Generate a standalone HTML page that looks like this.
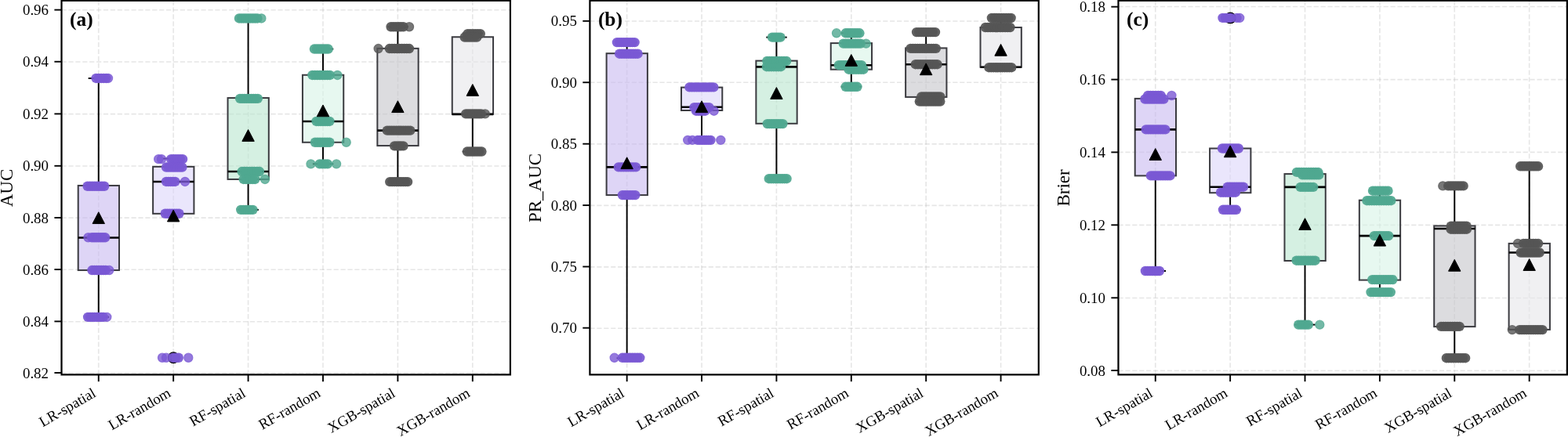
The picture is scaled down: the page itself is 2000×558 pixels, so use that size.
<!DOCTYPE html>
<html lang="en">
<head>
<meta charset="utf-8">
<title>Model performance box plots: AUC, PR_AUC, Brier</title>
<style>
html,body{margin:0;padding:0;background:#ffffff;}
body{width:2000px;height:558px;overflow:hidden;font-family:"Liberation Serif", "Times New Roman", serif;}
svg{display:block;}
</style>
</head>
<body>
<svg width="2000" height="558" viewBox="0 0 2000 558">
<rect x="0" y="0" width="2000" height="558" fill="#ffffff"/>
<g id="panel-a">
<g stroke="#bcbcbc" stroke-opacity="0.38" stroke-width="1.6" stroke-dasharray="6.2 2.7" fill="none">
<line x1="125.75" y1="478.4" x2="125.75" y2="0.75"/>
<line x1="221.16" y1="478.4" x2="221.16" y2="0.75"/>
<line x1="316.57" y1="478.4" x2="316.57" y2="0.75"/>
<line x1="411.98" y1="478.4" x2="411.98" y2="0.75"/>
<line x1="507.39" y1="478.4" x2="507.39" y2="0.75"/>
<line x1="602.8" y1="478.4" x2="602.8" y2="0.75"/>
<line x1="78.5" y1="12.75" x2="650.9" y2="12.75"/>
<line x1="78.5" y1="78.95" x2="650.9" y2="78.95"/>
<line x1="78.5" y1="145.65" x2="650.9" y2="145.65"/>
<line x1="78.5" y1="211.95" x2="650.9" y2="211.95"/>
<line x1="78.5" y1="278.15" x2="650.9" y2="278.15"/>
<line x1="78.5" y1="344.3" x2="650.9" y2="344.3"/>
<line x1="78.5" y1="410.75" x2="650.9" y2="410.75"/>
<line x1="78.5" y1="476.2" x2="650.9" y2="476.2"/>
</g>
<rect x="99.7" y="236.95" width="52.3" height="108.1" fill="#c8b9f0" fill-opacity="0.6" stroke="none"/>
<rect x="99.7" y="236.95" width="52.3" height="108.1" fill="none" stroke="#3b3b40" stroke-width="2.0"/>
<g stroke="#000" stroke-width="1.95" fill="none">
<line x1="125.75" y1="236.95" x2="125.75" y2="99.95"/>
<line x1="125.75" y1="345.05" x2="125.75" y2="404.85"/>
<line x1="112.65" y1="99.95" x2="139.05" y2="99.95"/>
<line x1="112.65" y1="404.85" x2="139.05" y2="404.85"/>
</g>
<line x1="99.7" y1="303.45" x2="152" y2="303.45" stroke="#000" stroke-width="2.6"/>
<rect x="195.11" y="212.85" width="52.3" height="60" fill="#dcd5fa" fill-opacity="0.6" stroke="none"/>
<rect x="195.11" y="212.85" width="52.3" height="60" fill="none" stroke="#3b3b40" stroke-width="2.0"/>
<g stroke="#000" stroke-width="1.95" fill="none">
<line x1="221.16" y1="212.85" x2="221.16" y2="202.55"/>
<line x1="208.06" y1="202.55" x2="234.46" y2="202.55"/>
<line x1="208.06" y1="272.85" x2="234.46" y2="272.85"/>
</g>
<line x1="195.11" y1="231.95" x2="247.41" y2="231.95" stroke="#000" stroke-width="2.6"/>
<circle cx="221.26" cy="456.75" r="7.4" fill="#000"/>
<rect x="290.52" y="125.05" width="52.3" height="103.9" fill="#b9e6cf" fill-opacity="0.6" stroke="none"/>
<rect x="290.52" y="125.05" width="52.3" height="103.9" fill="none" stroke="#3b3b40" stroke-width="2.0"/>
<g stroke="#000" stroke-width="1.95" fill="none">
<line x1="316.57" y1="125.05" x2="316.57" y2="23.45"/>
<line x1="316.57" y1="228.95" x2="316.57" y2="267.85"/>
<line x1="303.47" y1="23.45" x2="329.87" y2="23.45"/>
<line x1="303.47" y1="267.85" x2="329.87" y2="267.85"/>
</g>
<line x1="290.52" y1="219.05" x2="342.82" y2="219.05" stroke="#000" stroke-width="2.6"/>
<rect x="385.93" y="95.75" width="52.3" height="86" fill="#d7f3e6" fill-opacity="0.6" stroke="none"/>
<rect x="385.93" y="95.75" width="52.3" height="86" fill="none" stroke="#3b3b40" stroke-width="2.0"/>
<g stroke="#000" stroke-width="1.95" fill="none">
<line x1="411.98" y1="95.75" x2="411.98" y2="62.55"/>
<line x1="411.98" y1="181.75" x2="411.98" y2="209.35"/>
<line x1="398.88" y1="62.55" x2="425.28" y2="62.55"/>
<line x1="398.88" y1="209.35" x2="425.28" y2="209.35"/>
</g>
<line x1="385.93" y1="154.95" x2="438.23" y2="154.95" stroke="#000" stroke-width="2.6"/>
<rect x="481.34" y="61.85" width="52.3" height="124.2" fill="#c4c5ca" fill-opacity="0.6" stroke="none"/>
<rect x="481.34" y="61.85" width="52.3" height="124.2" fill="none" stroke="#3b3b40" stroke-width="2.0"/>
<g stroke="#000" stroke-width="1.95" fill="none">
<line x1="507.39" y1="61.85" x2="507.39" y2="34.25"/>
<line x1="507.39" y1="186.05" x2="507.39" y2="232.15"/>
<line x1="494.29" y1="34.25" x2="520.69" y2="34.25"/>
<line x1="494.29" y1="232.15" x2="520.69" y2="232.15"/>
</g>
<line x1="481.34" y1="166.65" x2="533.64" y2="166.65" stroke="#000" stroke-width="2.6"/>
<rect x="576.75" y="47.25" width="52.3" height="98.6" fill="#e6e6e9" fill-opacity="0.6" stroke="none"/>
<rect x="576.75" y="47.25" width="52.3" height="98.6" fill="none" stroke="#3b3b40" stroke-width="2.0"/>
<g stroke="#000" stroke-width="1.95" fill="none">
<line x1="602.8" y1="47.25" x2="602.8" y2="42.55"/>
<line x1="602.8" y1="145.85" x2="602.8" y2="193.55"/>
<line x1="589.7" y1="42.55" x2="616.1" y2="42.55"/>
<line x1="589.7" y1="193.55" x2="616.1" y2="193.55"/>
</g>
<line x1="576.75" y1="145.85" x2="629.05" y2="145.85" stroke="#000" stroke-width="2.6"/>
<g fill="#7a58d4" fill-opacity="0.93">
<circle cx="122.5" cy="99.95" r="6.2"/>
<circle cx="125.72" cy="99.95" r="6.2"/>
<circle cx="128.95" cy="99.95" r="6.2"/>
<circle cx="132.18" cy="99.95" r="6.2"/>
<circle cx="135.4" cy="99.95" r="6.2"/>
<circle cx="138" cy="99.95" r="5.6000000000000005" fill-opacity="0.8" stroke="#7a58d4" stroke-opacity="0.75" stroke-width="1.2"/>
<circle cx="111.6" cy="237.75" r="6.2"/>
<circle cx="114.67" cy="237.75" r="6.2"/>
<circle cx="117.74" cy="237.75" r="6.2"/>
<circle cx="120.81" cy="237.75" r="6.2"/>
<circle cx="123.89" cy="237.75" r="6.2"/>
<circle cx="126.96" cy="237.75" r="6.2"/>
<circle cx="130.03" cy="237.75" r="6.2"/>
<circle cx="133.1" cy="237.75" r="6.2"/>
<circle cx="117.2" cy="303.25" r="6.2"/>
<circle cx="120.02" cy="303.25" r="6.2"/>
<circle cx="122.83" cy="303.25" r="6.2"/>
<circle cx="125.65" cy="303.25" r="6.2"/>
<circle cx="128.47" cy="303.25" r="6.2"/>
<circle cx="131.28" cy="303.25" r="6.2"/>
<circle cx="134.1" cy="303.25" r="6.2"/>
<circle cx="112.5" cy="303.25" r="5.6000000000000005" fill-opacity="0.8" stroke="#7a58d4" stroke-opacity="0.75" stroke-width="1.2"/>
<circle cx="117.4" cy="345.05" r="6.2"/>
<circle cx="120.3" cy="345.05" r="6.2"/>
<circle cx="123.2" cy="345.05" r="6.2"/>
<circle cx="126.1" cy="345.05" r="6.2"/>
<circle cx="129" cy="345.05" r="6.2"/>
<circle cx="131.9" cy="345.05" r="6.2"/>
<circle cx="134.8" cy="345.05" r="6.2"/>
<circle cx="139.3" cy="345.05" r="5.6000000000000005" fill-opacity="0.8" stroke="#7a58d4" stroke-opacity="0.75" stroke-width="1.2"/>
<circle cx="112.1" cy="404.85" r="6.2"/>
<circle cx="114.91" cy="404.85" r="6.2"/>
<circle cx="117.73" cy="404.85" r="6.2"/>
<circle cx="120.54" cy="404.85" r="6.2"/>
<circle cx="123.36" cy="404.85" r="6.2"/>
<circle cx="126.17" cy="404.85" r="6.2"/>
<circle cx="128.99" cy="404.85" r="6.2"/>
<circle cx="131.8" cy="404.85" r="6.2"/>
<circle cx="136.3" cy="404.85" r="5.6000000000000005" fill-opacity="0.8" stroke="#7a58d4" stroke-opacity="0.75" stroke-width="1.2"/>
</g>
<g fill="#7a58d4" fill-opacity="0.93">
<circle cx="218.2" cy="203.15" r="6.2"/>
<circle cx="221.16" cy="203.15" r="6.2"/>
<circle cx="224.12" cy="203.15" r="6.2"/>
<circle cx="227.08" cy="203.15" r="6.2"/>
<circle cx="230.04" cy="203.15" r="6.2"/>
<circle cx="233" cy="203.15" r="6.2"/>
<circle cx="202.2" cy="203.15" r="5.6000000000000005" fill-opacity="0.8" stroke="#7a58d4" stroke-opacity="0.75" stroke-width="1.2"/>
<circle cx="206" cy="203.15" r="5.6000000000000005" fill-opacity="0.8" stroke="#7a58d4" stroke-opacity="0.75" stroke-width="1.2"/>
<circle cx="212" cy="213.55" r="6.2"/>
<circle cx="214.91" cy="213.55" r="6.2"/>
<circle cx="217.83" cy="213.55" r="6.2"/>
<circle cx="220.74" cy="213.55" r="6.2"/>
<circle cx="223.66" cy="213.55" r="6.2"/>
<circle cx="226.57" cy="213.55" r="6.2"/>
<circle cx="229.49" cy="213.55" r="6.2"/>
<circle cx="232.4" cy="213.55" r="6.2"/>
<circle cx="212" cy="231.95" r="6.2"/>
<circle cx="214.85" cy="231.95" r="6.2"/>
<circle cx="217.7" cy="231.95" r="6.2"/>
<circle cx="220.55" cy="231.95" r="6.2"/>
<circle cx="223.4" cy="231.95" r="6.2"/>
<circle cx="236" cy="231.95" r="5.6000000000000005" fill-opacity="0.8" stroke="#7a58d4" stroke-opacity="0.75" stroke-width="1.2"/>
<circle cx="210.7" cy="272.75" r="6.2"/>
<circle cx="213.65" cy="272.75" r="6.2"/>
<circle cx="216.6" cy="272.75" r="6.2"/>
<circle cx="219.55" cy="272.75" r="6.2"/>
<circle cx="222.5" cy="272.75" r="6.2"/>
<circle cx="225.45" cy="272.75" r="6.2"/>
<circle cx="228.4" cy="272.75" r="6.2"/>
<circle cx="220.8" cy="456.75" r="6.2"/>
<circle cx="224.3" cy="456.75" r="6.2"/>
<circle cx="227.8" cy="456.75" r="6.2"/>
<circle cx="207" cy="456.75" r="5.6000000000000005" fill-opacity="0.8" stroke="#7a58d4" stroke-opacity="0.75" stroke-width="1.2"/>
<circle cx="212" cy="456.75" r="5.6000000000000005" fill-opacity="0.8" stroke="#7a58d4" stroke-opacity="0.75" stroke-width="1.2"/>
<circle cx="240.3" cy="456.75" r="5.6000000000000005" fill-opacity="0.8" stroke="#7a58d4" stroke-opacity="0.75" stroke-width="1.2"/>
</g>
<g fill="#50a890" fill-opacity="0.93">
<circle cx="305" cy="23.45" r="6.2"/>
<circle cx="307.93" cy="23.45" r="6.2"/>
<circle cx="310.85" cy="23.45" r="6.2"/>
<circle cx="313.78" cy="23.45" r="6.2"/>
<circle cx="316.7" cy="23.45" r="6.2"/>
<circle cx="319.62" cy="23.45" r="6.2"/>
<circle cx="322.55" cy="23.45" r="6.2"/>
<circle cx="325.48" cy="23.45" r="6.2"/>
<circle cx="328.4" cy="23.45" r="6.2"/>
<circle cx="333.4" cy="23.45" r="5.6000000000000005" fill-opacity="0.8" stroke="#50a890" stroke-opacity="0.75" stroke-width="1.2"/>
<circle cx="306.1" cy="125.85" r="6.2"/>
<circle cx="308.94" cy="125.85" r="6.2"/>
<circle cx="311.77" cy="125.85" r="6.2"/>
<circle cx="314.61" cy="125.85" r="6.2"/>
<circle cx="317.45" cy="125.85" r="6.2"/>
<circle cx="320.29" cy="125.85" r="6.2"/>
<circle cx="323.12" cy="125.85" r="6.2"/>
<circle cx="325.96" cy="125.85" r="6.2"/>
<circle cx="328.8" cy="125.85" r="6.2"/>
<circle cx="308.6" cy="219.05" r="6.2"/>
<circle cx="311.8" cy="219.05" r="6.2"/>
<circle cx="315" cy="219.05" r="6.2"/>
<circle cx="318.2" cy="219.05" r="6.2"/>
<circle cx="321.4" cy="219.05" r="6.2"/>
<circle cx="324.6" cy="219.05" r="6.2"/>
<circle cx="327.8" cy="219.05" r="6.2"/>
<circle cx="331" cy="219.05" r="6.2"/>
<circle cx="310.7" cy="228.95" r="6.2"/>
<circle cx="313.62" cy="228.95" r="6.2"/>
<circle cx="316.54" cy="228.95" r="6.2"/>
<circle cx="319.46" cy="228.95" r="6.2"/>
<circle cx="322.38" cy="228.95" r="6.2"/>
<circle cx="325.3" cy="228.95" r="6.2"/>
<circle cx="338" cy="228.95" r="5.6000000000000005" fill-opacity="0.8" stroke="#50a890" stroke-opacity="0.75" stroke-width="1.2"/>
<circle cx="307.2" cy="267.85" r="6.2"/>
<circle cx="310.26" cy="267.85" r="6.2"/>
<circle cx="313.32" cy="267.85" r="6.2"/>
<circle cx="316.38" cy="267.85" r="6.2"/>
<circle cx="319.44" cy="267.85" r="6.2"/>
<circle cx="322.5" cy="267.85" r="6.2"/>
</g>
<g fill="#50a890" fill-opacity="0.93">
<circle cx="400.9" cy="62.55" r="6.2"/>
<circle cx="403.87" cy="62.55" r="6.2"/>
<circle cx="406.83" cy="62.55" r="6.2"/>
<circle cx="409.8" cy="62.55" r="6.2"/>
<circle cx="412.77" cy="62.55" r="6.2"/>
<circle cx="415.73" cy="62.55" r="6.2"/>
<circle cx="418.7" cy="62.55" r="6.2"/>
<circle cx="398.4" cy="95.95" r="6.2"/>
<circle cx="401.6" cy="95.95" r="6.2"/>
<circle cx="404.8" cy="95.95" r="6.2"/>
<circle cx="408" cy="95.95" r="6.2"/>
<circle cx="411.2" cy="95.95" r="6.2"/>
<circle cx="414.4" cy="95.95" r="6.2"/>
<circle cx="417.6" cy="95.95" r="6.2"/>
<circle cx="420.8" cy="95.95" r="6.2"/>
<circle cx="430.4" cy="95.95" r="5.6000000000000005" fill-opacity="0.8" stroke="#50a890" stroke-opacity="0.75" stroke-width="1.2"/>
<circle cx="403.5" cy="154.95" r="6.2"/>
<circle cx="406.32" cy="154.95" r="6.2"/>
<circle cx="409.13" cy="154.95" r="6.2"/>
<circle cx="411.95" cy="154.95" r="6.2"/>
<circle cx="414.77" cy="154.95" r="6.2"/>
<circle cx="417.58" cy="154.95" r="6.2"/>
<circle cx="420.4" cy="154.95" r="6.2"/>
<circle cx="401.9" cy="181.75" r="6.2"/>
<circle cx="404.98" cy="181.75" r="6.2"/>
<circle cx="408.07" cy="181.75" r="6.2"/>
<circle cx="411.15" cy="181.75" r="6.2"/>
<circle cx="414.23" cy="181.75" r="6.2"/>
<circle cx="417.32" cy="181.75" r="6.2"/>
<circle cx="420.4" cy="181.75" r="6.2"/>
<circle cx="441.7" cy="181.75" r="5.6000000000000005" fill-opacity="0.8" stroke="#50a890" stroke-opacity="0.75" stroke-width="1.2"/>
<circle cx="407.7" cy="209.35" r="6.2"/>
<circle cx="411.1" cy="209.35" r="6.2"/>
<circle cx="414.5" cy="209.35" r="6.2"/>
<circle cx="417.9" cy="209.35" r="6.2"/>
<circle cx="396.5" cy="209.35" r="5.6000000000000005" fill-opacity="0.8" stroke="#50a890" stroke-opacity="0.75" stroke-width="1.2"/>
<circle cx="429.1" cy="209.35" r="5.6000000000000005" fill-opacity="0.8" stroke="#50a890" stroke-opacity="0.75" stroke-width="1.2"/>
</g>
<g fill="#555555" fill-opacity="0.93">
<circle cx="498.6" cy="34.25" r="6.2"/>
<circle cx="501.78" cy="34.25" r="6.2"/>
<circle cx="504.96" cy="34.25" r="6.2"/>
<circle cx="508.14" cy="34.25" r="6.2"/>
<circle cx="511.32" cy="34.25" r="6.2"/>
<circle cx="514.5" cy="34.25" r="6.2"/>
<circle cx="522" cy="34.25" r="5.6000000000000005" fill-opacity="0.8" stroke="#555555" stroke-opacity="0.75" stroke-width="1.2"/>
<circle cx="496.8" cy="62.05" r="6.2"/>
<circle cx="499.95" cy="62.05" r="6.2"/>
<circle cx="503.1" cy="62.05" r="6.2"/>
<circle cx="506.25" cy="62.05" r="6.2"/>
<circle cx="509.4" cy="62.05" r="6.2"/>
<circle cx="512.55" cy="62.05" r="6.2"/>
<circle cx="515.7" cy="62.05" r="6.2"/>
<circle cx="518.85" cy="62.05" r="6.2"/>
<circle cx="522" cy="62.05" r="6.2"/>
<circle cx="482.6" cy="62.05" r="5.6000000000000005" fill-opacity="0.8" stroke="#555555" stroke-opacity="0.75" stroke-width="1.2"/>
<circle cx="493.8" cy="166.65" r="6.2"/>
<circle cx="496.75" cy="166.65" r="6.2"/>
<circle cx="499.7" cy="166.65" r="6.2"/>
<circle cx="502.65" cy="166.65" r="6.2"/>
<circle cx="505.6" cy="166.65" r="6.2"/>
<circle cx="508.55" cy="166.65" r="6.2"/>
<circle cx="511.5" cy="166.65" r="6.2"/>
<circle cx="514.45" cy="166.65" r="6.2"/>
<circle cx="517.4" cy="166.65" r="6.2"/>
<circle cx="520.35" cy="166.65" r="6.2"/>
<circle cx="523.3" cy="166.65" r="6.2"/>
<circle cx="503.1" cy="186.35" r="6.2"/>
<circle cx="505.95" cy="186.35" r="6.2"/>
<circle cx="508.8" cy="186.35" r="6.2"/>
<circle cx="511.65" cy="186.35" r="6.2"/>
<circle cx="514.5" cy="186.35" r="6.2"/>
<circle cx="497.3" cy="232.15" r="6.2"/>
<circle cx="500.14" cy="232.15" r="6.2"/>
<circle cx="502.98" cy="232.15" r="6.2"/>
<circle cx="505.81" cy="232.15" r="6.2"/>
<circle cx="508.65" cy="232.15" r="6.2"/>
<circle cx="511.49" cy="232.15" r="6.2"/>
<circle cx="514.33" cy="232.15" r="6.2"/>
<circle cx="517.16" cy="232.15" r="6.2"/>
<circle cx="520" cy="232.15" r="6.2"/>
</g>
<g fill="#555555" fill-opacity="0.93">
<circle cx="596.5" cy="43.15" r="6.2"/>
<circle cx="599.74" cy="43.15" r="6.2"/>
<circle cx="602.98" cy="43.15" r="6.2"/>
<circle cx="606.22" cy="43.15" r="6.2"/>
<circle cx="609.46" cy="43.15" r="6.2"/>
<circle cx="612.7" cy="43.15" r="6.2"/>
<circle cx="592.7" cy="47.65" r="6.2"/>
<circle cx="595.8" cy="47.65" r="6.2"/>
<circle cx="598.9" cy="47.65" r="6.2"/>
<circle cx="602" cy="47.65" r="6.2"/>
<circle cx="605.1" cy="47.65" r="6.2"/>
<circle cx="608.2" cy="47.65" r="6.2"/>
<circle cx="594.2" cy="145.35" r="6.2"/>
<circle cx="597" cy="145.35" r="6.2"/>
<circle cx="599.8" cy="145.35" r="6.2"/>
<circle cx="602.6" cy="145.35" r="6.2"/>
<circle cx="605.4" cy="145.35" r="6.2"/>
<circle cx="608.2" cy="145.35" r="6.2"/>
<circle cx="611" cy="145.35" r="6.2"/>
<circle cx="613.8" cy="145.35" r="6.2"/>
<circle cx="618.8" cy="145.35" r="5.6000000000000005" fill-opacity="0.8" stroke="#555555" stroke-opacity="0.75" stroke-width="1.2"/>
<circle cx="595.9" cy="193.55" r="6.2"/>
<circle cx="598.98" cy="193.55" r="6.2"/>
<circle cx="602.07" cy="193.55" r="6.2"/>
<circle cx="605.15" cy="193.55" r="6.2"/>
<circle cx="608.23" cy="193.55" r="6.2"/>
<circle cx="611.32" cy="193.55" r="6.2"/>
<circle cx="614.4" cy="193.55" r="6.2"/>
</g>
<path d="M125.75 270.75L133.45 285.55L118.05 285.55Z" fill="#000" stroke="#000" stroke-width="1" stroke-linejoin="round"/>
<path d="M221.16 268.15L228.86 282.95L213.46 282.95Z" fill="#000" stroke="#000" stroke-width="1" stroke-linejoin="round"/>
<path d="M316.57 165.55L324.27 180.35L308.87 180.35Z" fill="#000" stroke="#000" stroke-width="1" stroke-linejoin="round"/>
<path d="M411.98 133.95L419.68 148.75L404.28 148.75Z" fill="#000" stroke="#000" stroke-width="1" stroke-linejoin="round"/>
<path d="M507.39 128.75L515.09 143.55L499.69 143.55Z" fill="#000" stroke="#000" stroke-width="1" stroke-linejoin="round"/>
<path d="M602.8 107.55L610.5 122.35L595.1 122.35Z" fill="#000" stroke="#000" stroke-width="1" stroke-linejoin="round"/>
<rect x="78.5" y="0.75" width="572.4" height="477.65" fill="none" stroke="#000" stroke-width="2.2"/>
<g stroke="#000" stroke-width="1.9" fill="none">
<line x1="125.75" y1="478.4" x2="125.75" y2="487.2"/>
<line x1="221.16" y1="478.4" x2="221.16" y2="487.2"/>
<line x1="316.57" y1="478.4" x2="316.57" y2="487.2"/>
<line x1="411.98" y1="478.4" x2="411.98" y2="487.2"/>
<line x1="507.39" y1="478.4" x2="507.39" y2="487.2"/>
<line x1="602.8" y1="478.4" x2="602.8" y2="487.2"/>
<line x1="78.5" y1="12.6" x2="69.4" y2="12.6"/>
<line x1="78.5" y1="78.75" x2="69.4" y2="78.75"/>
<line x1="78.5" y1="145.4" x2="69.4" y2="145.4"/>
<line x1="78.5" y1="211.8" x2="69.4" y2="211.8"/>
<line x1="78.5" y1="278" x2="69.4" y2="278"/>
<line x1="78.5" y1="344.1" x2="69.4" y2="344.1"/>
<line x1="78.5" y1="410.4" x2="69.4" y2="410.4"/>
<line x1="78.5" y1="476.05" x2="69.4" y2="476.05"/>
</g>
<g font-family='"Liberation Serif", "Times New Roman", serif' fill="#000">
<text x="62" y="19.2" font-size="18.9" text-anchor="end">0.96</text>
<text x="62" y="85.35" font-size="18.9" text-anchor="end">0.94</text>
<text x="62" y="152" font-size="18.9" text-anchor="end">0.92</text>
<text x="62" y="218.4" font-size="18.9" text-anchor="end">0.90</text>
<text x="62" y="284.6" font-size="18.9" text-anchor="end">0.88</text>
<text x="62" y="350.7" font-size="18.9" text-anchor="end">0.86</text>
<text x="62" y="417" font-size="18.9" text-anchor="end">0.84</text>
<text x="62" y="482.65" font-size="18.9" text-anchor="end">0.82</text>
<text transform="translate(123.65 505.5) rotate(-30)" font-size="18.9" text-anchor="end">LR-spatial</text>
<text transform="translate(219.06 505.5) rotate(-30)" font-size="18.9" text-anchor="end">LR-random</text>
<text transform="translate(314.47 505.5) rotate(-30)" font-size="18.9" text-anchor="end">RF-spatial</text>
<text transform="translate(409.88 505.5) rotate(-30)" font-size="18.9" text-anchor="end">RF-random</text>
<text transform="translate(505.29 505.5) rotate(-30)" font-size="18.9" text-anchor="end">XGB-spatial</text>
<text transform="translate(600.7 505.5) rotate(-30)" font-size="18.9" text-anchor="end">XGB-random</text>
<text transform="translate(16.2 239.97) rotate(-90) scale(0.975 1)" font-size="23.6" text-anchor="middle">AUC</text>
<text x="89" y="33.2" font-size="25.4" font-weight="bold">(a)</text>
</g>
</g>
<g id="panel-b">
<g stroke="#bcbcbc" stroke-opacity="0.38" stroke-width="1.6" stroke-dasharray="6.2 2.7" fill="none">
<line x1="799.65" y1="478.4" x2="799.65" y2="0.75"/>
<line x1="895.03" y1="478.4" x2="895.03" y2="0.75"/>
<line x1="990.41" y1="478.4" x2="990.41" y2="0.75"/>
<line x1="1085.79" y1="478.4" x2="1085.79" y2="0.75"/>
<line x1="1181.17" y1="478.4" x2="1181.17" y2="0.75"/>
<line x1="1276.55" y1="478.4" x2="1276.55" y2="0.75"/>
<line x1="752.4" y1="27" x2="1324.8" y2="27"/>
<line x1="752.4" y1="105.3" x2="1324.8" y2="105.3"/>
<line x1="752.4" y1="183.9" x2="1324.8" y2="183.9"/>
<line x1="752.4" y1="262.4" x2="1324.8" y2="262.4"/>
<line x1="752.4" y1="340.85" x2="1324.8" y2="340.85"/>
<line x1="752.4" y1="419.3" x2="1324.8" y2="419.3"/>
</g>
<rect x="773.6" y="68.2" width="52.3" height="180.9" fill="#c8b9f0" fill-opacity="0.6" stroke="none"/>
<rect x="773.6" y="68.2" width="52.3" height="180.9" fill="none" stroke="#3b3b40" stroke-width="2.0"/>
<g stroke="#000" stroke-width="1.95" fill="none">
<line x1="799.65" y1="68.2" x2="799.65" y2="54.1"/>
<line x1="799.65" y1="249.1" x2="799.65" y2="457.3"/>
<line x1="786.55" y1="54.1" x2="812.95" y2="54.1"/>
<line x1="786.55" y1="457.3" x2="812.95" y2="457.3"/>
</g>
<line x1="773.6" y1="213.4" x2="825.9" y2="213.4" stroke="#000" stroke-width="2.6"/>
<rect x="868.98" y="111.6" width="52.3" height="29.4" fill="#dcd5fa" fill-opacity="0.6" stroke="none"/>
<rect x="868.98" y="111.6" width="52.3" height="29.4" fill="none" stroke="#3b3b40" stroke-width="2.0"/>
<g stroke="#000" stroke-width="1.95" fill="none">
<line x1="895.03" y1="111.6" x2="895.03" y2="110.8"/>
<line x1="895.03" y1="141" x2="895.03" y2="179.3"/>
<line x1="881.93" y1="110.8" x2="908.33" y2="110.8"/>
<line x1="881.93" y1="179.3" x2="908.33" y2="179.3"/>
</g>
<line x1="868.98" y1="136.8" x2="921.28" y2="136.8" stroke="#000" stroke-width="2.6"/>
<rect x="964.36" y="77.6" width="52.3" height="80.2" fill="#b9e6cf" fill-opacity="0.6" stroke="none"/>
<rect x="964.36" y="77.6" width="52.3" height="80.2" fill="none" stroke="#3b3b40" stroke-width="2.0"/>
<g stroke="#000" stroke-width="1.95" fill="none">
<line x1="990.41" y1="77.6" x2="990.41" y2="47.6"/>
<line x1="990.41" y1="157.8" x2="990.41" y2="228.2"/>
<line x1="977.31" y1="47.6" x2="1003.71" y2="47.6"/>
<line x1="977.31" y1="228.2" x2="1003.71" y2="228.2"/>
</g>
<line x1="964.36" y1="85.4" x2="1016.66" y2="85.4" stroke="#000" stroke-width="2.6"/>
<rect x="1059.74" y="55.1" width="52.3" height="33.6" fill="#d7f3e6" fill-opacity="0.6" stroke="none"/>
<rect x="1059.74" y="55.1" width="52.3" height="33.6" fill="none" stroke="#3b3b40" stroke-width="2.0"/>
<g stroke="#000" stroke-width="1.95" fill="none">
<line x1="1085.79" y1="55.1" x2="1085.79" y2="42.3"/>
<line x1="1085.79" y1="88.7" x2="1085.79" y2="110.8"/>
<line x1="1072.69" y1="42.3" x2="1099.09" y2="42.3"/>
<line x1="1072.69" y1="110.8" x2="1099.09" y2="110.8"/>
</g>
<line x1="1059.74" y1="83.2" x2="1112.04" y2="83.2" stroke="#000" stroke-width="2.6"/>
<rect x="1155.12" y="61.4" width="52.3" height="62.5" fill="#c4c5ca" fill-opacity="0.6" stroke="none"/>
<rect x="1155.12" y="61.4" width="52.3" height="62.5" fill="none" stroke="#3b3b40" stroke-width="2.0"/>
<g stroke="#000" stroke-width="1.95" fill="none">
<line x1="1181.17" y1="61.4" x2="1181.17" y2="41.1"/>
<line x1="1181.17" y1="123.9" x2="1181.17" y2="129.6"/>
<line x1="1168.07" y1="41.1" x2="1194.47" y2="41.1"/>
<line x1="1168.07" y1="129.6" x2="1194.47" y2="129.6"/>
</g>
<line x1="1155.12" y1="82.2" x2="1207.42" y2="82.2" stroke="#000" stroke-width="2.6"/>
<rect x="1250.5" y="35" width="52.3" height="50.7" fill="#e6e6e9" fill-opacity="0.6" stroke="none"/>
<rect x="1250.5" y="35" width="52.3" height="50.7" fill="none" stroke="#3b3b40" stroke-width="2.0"/>
<g stroke="#000" stroke-width="1.95" fill="none">
<line x1="1276.55" y1="35" x2="1276.55" y2="23"/>
<line x1="1263.45" y1="23" x2="1289.85" y2="23"/>
<line x1="1263.45" y1="85.7" x2="1289.85" y2="85.7"/>
</g>
<line x1="1250.5" y1="85.7" x2="1302.8" y2="85.7" stroke="#000" stroke-width="2.6"/>
<g fill="#7a58d4" fill-opacity="0.93">
<circle cx="786.9" cy="54.1" r="6.2"/>
<circle cx="789.74" cy="54.1" r="6.2"/>
<circle cx="792.58" cy="54.1" r="6.2"/>
<circle cx="795.41" cy="54.1" r="6.2"/>
<circle cx="798.25" cy="54.1" r="6.2"/>
<circle cx="801.09" cy="54.1" r="6.2"/>
<circle cx="803.93" cy="54.1" r="6.2"/>
<circle cx="806.76" cy="54.1" r="6.2"/>
<circle cx="809.6" cy="54.1" r="6.2"/>
<circle cx="790.1" cy="68.7" r="6.2"/>
<circle cx="793.04" cy="68.7" r="6.2"/>
<circle cx="795.98" cy="68.7" r="6.2"/>
<circle cx="798.91" cy="68.7" r="6.2"/>
<circle cx="801.85" cy="68.7" r="6.2"/>
<circle cx="804.79" cy="68.7" r="6.2"/>
<circle cx="807.73" cy="68.7" r="6.2"/>
<circle cx="810.66" cy="68.7" r="6.2"/>
<circle cx="813.6" cy="68.7" r="6.2"/>
<circle cx="788.9" cy="213.4" r="6.2"/>
<circle cx="792.07" cy="213.4" r="6.2"/>
<circle cx="795.24" cy="213.4" r="6.2"/>
<circle cx="798.41" cy="213.4" r="6.2"/>
<circle cx="801.59" cy="213.4" r="6.2"/>
<circle cx="804.76" cy="213.4" r="6.2"/>
<circle cx="807.93" cy="213.4" r="6.2"/>
<circle cx="811.1" cy="213.4" r="6.2"/>
<circle cx="793.9" cy="249.1" r="6.2"/>
<circle cx="797.18" cy="249.1" r="6.2"/>
<circle cx="800.46" cy="249.1" r="6.2"/>
<circle cx="803.74" cy="249.1" r="6.2"/>
<circle cx="807.02" cy="249.1" r="6.2"/>
<circle cx="810.3" cy="249.1" r="6.2"/>
<circle cx="793.9" cy="456.8" r="6.2"/>
<circle cx="797.1" cy="456.8" r="6.2"/>
<circle cx="800.3" cy="456.8" r="6.2"/>
<circle cx="803.5" cy="456.8" r="6.2"/>
<circle cx="806.7" cy="456.8" r="6.2"/>
<circle cx="809.9" cy="456.8" r="6.2"/>
<circle cx="813.1" cy="456.8" r="6.2"/>
<circle cx="816.3" cy="456.8" r="6.2"/>
<circle cx="783.7" cy="456.8" r="5.6000000000000005" fill-opacity="0.8" stroke="#7a58d4" stroke-opacity="0.75" stroke-width="1.2"/>
</g>
<g fill="#7a58d4" fill-opacity="0.93">
<circle cx="879.4" cy="111.4" r="6.2"/>
<circle cx="882.49" cy="111.4" r="6.2"/>
<circle cx="885.58" cy="111.4" r="6.2"/>
<circle cx="888.67" cy="111.4" r="6.2"/>
<circle cx="891.76" cy="111.4" r="6.2"/>
<circle cx="894.85" cy="111.4" r="6.2"/>
<circle cx="897.94" cy="111.4" r="6.2"/>
<circle cx="901.03" cy="111.4" r="6.2"/>
<circle cx="904.12" cy="111.4" r="6.2"/>
<circle cx="907.21" cy="111.4" r="6.2"/>
<circle cx="910.3" cy="111.4" r="6.2"/>
<circle cx="885.4" cy="137.2" r="6.2"/>
<circle cx="888.58" cy="137.2" r="6.2"/>
<circle cx="891.77" cy="137.2" r="6.2"/>
<circle cx="894.95" cy="137.2" r="6.2"/>
<circle cx="898.13" cy="137.2" r="6.2"/>
<circle cx="901.32" cy="137.2" r="6.2"/>
<circle cx="904.5" cy="137.2" r="6.2"/>
<circle cx="887.9" cy="141.7" r="6.2"/>
<circle cx="890.8" cy="141.7" r="6.2"/>
<circle cx="893.7" cy="141.7" r="6.2"/>
<circle cx="896.6" cy="141.7" r="6.2"/>
<circle cx="899.5" cy="141.7" r="6.2"/>
<circle cx="910.7" cy="141.7" r="5.6000000000000005" fill-opacity="0.8" stroke="#7a58d4" stroke-opacity="0.75" stroke-width="1.2"/>
<circle cx="889.9" cy="178.9" r="6.2"/>
<circle cx="892.67" cy="178.9" r="6.2"/>
<circle cx="895.43" cy="178.9" r="6.2"/>
<circle cx="898.2" cy="178.9" r="6.2"/>
<circle cx="900.97" cy="178.9" r="6.2"/>
<circle cx="903.73" cy="178.9" r="6.2"/>
<circle cx="906.5" cy="178.9" r="6.2"/>
<circle cx="877.2" cy="178.9" r="5.6000000000000005" fill-opacity="0.8" stroke="#7a58d4" stroke-opacity="0.75" stroke-width="1.2"/>
<circle cx="883.2" cy="178.9" r="5.6000000000000005" fill-opacity="0.8" stroke="#7a58d4" stroke-opacity="0.75" stroke-width="1.2"/>
<circle cx="919.3" cy="178.9" r="5.6000000000000005" fill-opacity="0.8" stroke="#7a58d4" stroke-opacity="0.75" stroke-width="1.2"/>
</g>
<g fill="#50a890" fill-opacity="0.93">
<circle cx="984.9" cy="47.6" r="6.2"/>
<circle cx="987.55" cy="47.6" r="6.2"/>
<circle cx="990.2" cy="47.6" r="6.2"/>
<circle cx="992.85" cy="47.6" r="6.2"/>
<circle cx="995.5" cy="47.6" r="6.2"/>
<circle cx="978.4" cy="78" r="6.2"/>
<circle cx="981.49" cy="78" r="6.2"/>
<circle cx="984.58" cy="78" r="6.2"/>
<circle cx="987.66" cy="78" r="6.2"/>
<circle cx="990.75" cy="78" r="6.2"/>
<circle cx="993.84" cy="78" r="6.2"/>
<circle cx="996.93" cy="78" r="6.2"/>
<circle cx="1000.01" cy="78" r="6.2"/>
<circle cx="1003.1" cy="78" r="6.2"/>
<circle cx="977.9" cy="85.2" r="6.2"/>
<circle cx="980.92" cy="85.2" r="6.2"/>
<circle cx="983.93" cy="85.2" r="6.2"/>
<circle cx="986.95" cy="85.2" r="6.2"/>
<circle cx="989.97" cy="85.2" r="6.2"/>
<circle cx="992.98" cy="85.2" r="6.2"/>
<circle cx="996" cy="85.2" r="6.2"/>
<circle cx="978.7" cy="158.1" r="6.2"/>
<circle cx="981.53" cy="158.1" r="6.2"/>
<circle cx="984.36" cy="158.1" r="6.2"/>
<circle cx="987.19" cy="158.1" r="6.2"/>
<circle cx="990.01" cy="158.1" r="6.2"/>
<circle cx="992.84" cy="158.1" r="6.2"/>
<circle cx="995.67" cy="158.1" r="6.2"/>
<circle cx="998.5" cy="158.1" r="6.2"/>
<circle cx="980.8" cy="228.2" r="6.2"/>
<circle cx="983.64" cy="228.2" r="6.2"/>
<circle cx="986.48" cy="228.2" r="6.2"/>
<circle cx="989.31" cy="228.2" r="6.2"/>
<circle cx="992.15" cy="228.2" r="6.2"/>
<circle cx="994.99" cy="228.2" r="6.2"/>
<circle cx="997.83" cy="228.2" r="6.2"/>
<circle cx="1000.66" cy="228.2" r="6.2"/>
<circle cx="1003.5" cy="228.2" r="6.2"/>
</g>
<g fill="#50a890" fill-opacity="0.93">
<circle cx="1078.7" cy="42.3" r="6.2"/>
<circle cx="1081.65" cy="42.3" r="6.2"/>
<circle cx="1084.6" cy="42.3" r="6.2"/>
<circle cx="1087.55" cy="42.3" r="6.2"/>
<circle cx="1090.5" cy="42.3" r="6.2"/>
<circle cx="1093.45" cy="42.3" r="6.2"/>
<circle cx="1096.4" cy="42.3" r="6.2"/>
<circle cx="1067" cy="42.3" r="5.6000000000000005" fill-opacity="0.8" stroke="#50a890" stroke-opacity="0.75" stroke-width="1.2"/>
<circle cx="1075.7" cy="55.6" r="6.2"/>
<circle cx="1078.84" cy="55.6" r="6.2"/>
<circle cx="1081.99" cy="55.6" r="6.2"/>
<circle cx="1085.13" cy="55.6" r="6.2"/>
<circle cx="1088.27" cy="55.6" r="6.2"/>
<circle cx="1091.41" cy="55.6" r="6.2"/>
<circle cx="1094.56" cy="55.6" r="6.2"/>
<circle cx="1097.7" cy="55.6" r="6.2"/>
<circle cx="1104.7" cy="55.6" r="5.6000000000000005" fill-opacity="0.8" stroke="#50a890" stroke-opacity="0.75" stroke-width="1.2"/>
<circle cx="1069.9" cy="83.2" r="6.2"/>
<circle cx="1072.8" cy="83.2" r="6.2"/>
<circle cx="1075.7" cy="83.2" r="6.2"/>
<circle cx="1078.6" cy="83.2" r="6.2"/>
<circle cx="1081.5" cy="83.2" r="6.2"/>
<circle cx="1084.4" cy="83.2" r="6.2"/>
<circle cx="1087.3" cy="83.2" r="6.2"/>
<circle cx="1090.2" cy="83.2" r="6.2"/>
<circle cx="1093.1" cy="83.2" r="6.2"/>
<circle cx="1096" cy="83.2" r="6.2"/>
<circle cx="1098.9" cy="83.2" r="6.2"/>
<circle cx="1082.5" cy="88.7" r="6.2"/>
<circle cx="1085.65" cy="88.7" r="6.2"/>
<circle cx="1088.8" cy="88.7" r="6.2"/>
<circle cx="1091.95" cy="88.7" r="6.2"/>
<circle cx="1095.1" cy="88.7" r="6.2"/>
<circle cx="1098.25" cy="88.7" r="6.2"/>
<circle cx="1101.4" cy="88.7" r="6.2"/>
<circle cx="1078.7" cy="110.8" r="6.2"/>
<circle cx="1081.64" cy="110.8" r="6.2"/>
<circle cx="1084.58" cy="110.8" r="6.2"/>
<circle cx="1087.52" cy="110.8" r="6.2"/>
<circle cx="1090.46" cy="110.8" r="6.2"/>
<circle cx="1093.4" cy="110.8" r="6.2"/>
</g>
<g fill="#555555" fill-opacity="0.93">
<circle cx="1169" cy="41.1" r="6.2"/>
<circle cx="1172" cy="41.1" r="6.2"/>
<circle cx="1175" cy="41.1" r="6.2"/>
<circle cx="1178" cy="41.1" r="6.2"/>
<circle cx="1181" cy="41.1" r="6.2"/>
<circle cx="1184" cy="41.1" r="6.2"/>
<circle cx="1187" cy="41.1" r="6.2"/>
<circle cx="1190" cy="41.1" r="6.2"/>
<circle cx="1193" cy="41.1" r="6.2"/>
<circle cx="1161.5" cy="61.9" r="6.2"/>
<circle cx="1164.44" cy="61.9" r="6.2"/>
<circle cx="1167.37" cy="61.9" r="6.2"/>
<circle cx="1170.31" cy="61.9" r="6.2"/>
<circle cx="1173.25" cy="61.9" r="6.2"/>
<circle cx="1176.18" cy="61.9" r="6.2"/>
<circle cx="1179.12" cy="61.9" r="6.2"/>
<circle cx="1182.05" cy="61.9" r="6.2"/>
<circle cx="1184.99" cy="61.9" r="6.2"/>
<circle cx="1187.93" cy="61.9" r="6.2"/>
<circle cx="1190.86" cy="61.9" r="6.2"/>
<circle cx="1193.8" cy="61.9" r="6.2"/>
<circle cx="1167.8" cy="82.2" r="6.2"/>
<circle cx="1170.88" cy="82.2" r="6.2"/>
<circle cx="1173.96" cy="82.2" r="6.2"/>
<circle cx="1177.03" cy="82.2" r="6.2"/>
<circle cx="1180.11" cy="82.2" r="6.2"/>
<circle cx="1183.19" cy="82.2" r="6.2"/>
<circle cx="1186.27" cy="82.2" r="6.2"/>
<circle cx="1189.34" cy="82.2" r="6.2"/>
<circle cx="1192.42" cy="82.2" r="6.2"/>
<circle cx="1195.5" cy="82.2" r="6.2"/>
<circle cx="1175.3" cy="123.4" r="6.2"/>
<circle cx="1178.3" cy="123.4" r="6.2"/>
<circle cx="1181.3" cy="123.4" r="6.2"/>
<circle cx="1184.3" cy="123.4" r="6.2"/>
<circle cx="1187.3" cy="123.4" r="6.2"/>
<circle cx="1190.3" cy="123.4" r="6.2"/>
<circle cx="1193.3" cy="123.4" r="6.2"/>
<circle cx="1196.3" cy="123.4" r="6.2"/>
<circle cx="1199.3" cy="123.4" r="6.2"/>
<circle cx="1172.8" cy="129.6" r="6.2"/>
<circle cx="1175.74" cy="129.6" r="6.2"/>
<circle cx="1178.69" cy="129.6" r="6.2"/>
<circle cx="1181.63" cy="129.6" r="6.2"/>
<circle cx="1184.58" cy="129.6" r="6.2"/>
<circle cx="1187.52" cy="129.6" r="6.2"/>
<circle cx="1190.47" cy="129.6" r="6.2"/>
<circle cx="1193.41" cy="129.6" r="6.2"/>
<circle cx="1196.36" cy="129.6" r="6.2"/>
<circle cx="1199.3" cy="129.6" r="6.2"/>
</g>
<g fill="#555555" fill-opacity="0.93">
<circle cx="1264.9" cy="23" r="6.2"/>
<circle cx="1267.99" cy="23" r="6.2"/>
<circle cx="1271.08" cy="23" r="6.2"/>
<circle cx="1274.16" cy="23" r="6.2"/>
<circle cx="1277.25" cy="23" r="6.2"/>
<circle cx="1280.34" cy="23" r="6.2"/>
<circle cx="1283.42" cy="23" r="6.2"/>
<circle cx="1286.51" cy="23" r="6.2"/>
<circle cx="1289.6" cy="23" r="6.2"/>
<circle cx="1256.9" cy="35" r="6.2"/>
<circle cx="1260.05" cy="35" r="6.2"/>
<circle cx="1263.2" cy="35" r="6.2"/>
<circle cx="1266.35" cy="35" r="6.2"/>
<circle cx="1269.5" cy="35" r="6.2"/>
<circle cx="1272.65" cy="35" r="6.2"/>
<circle cx="1275.8" cy="35" r="6.2"/>
<circle cx="1278.95" cy="35" r="6.2"/>
<circle cx="1282.1" cy="35" r="6.2"/>
<circle cx="1285.25" cy="35" r="6.2"/>
<circle cx="1288.4" cy="35" r="6.2"/>
<circle cx="1261.4" cy="86.2" r="6.2"/>
<circle cx="1264.28" cy="86.2" r="6.2"/>
<circle cx="1267.16" cy="86.2" r="6.2"/>
<circle cx="1270.04" cy="86.2" r="6.2"/>
<circle cx="1272.92" cy="86.2" r="6.2"/>
<circle cx="1275.8" cy="86.2" r="6.2"/>
<circle cx="1278.68" cy="86.2" r="6.2"/>
<circle cx="1281.56" cy="86.2" r="6.2"/>
<circle cx="1284.44" cy="86.2" r="6.2"/>
<circle cx="1287.32" cy="86.2" r="6.2"/>
<circle cx="1290.2" cy="86.2" r="6.2"/>
</g>
<path d="M799.65 200.8L807.35 215.6L791.95 215.6Z" fill="#000" stroke="#000" stroke-width="1" stroke-linejoin="round"/>
<path d="M895.03 128.8L902.73 143.6L887.33 143.6Z" fill="#000" stroke="#000" stroke-width="1" stroke-linejoin="round"/>
<path d="M990.41 111.6L998.11 126.4L982.71 126.4Z" fill="#000" stroke="#000" stroke-width="1" stroke-linejoin="round"/>
<path d="M1085.79 69.5L1093.49 84.3L1078.09 84.3Z" fill="#000" stroke="#000" stroke-width="1" stroke-linejoin="round"/>
<path d="M1181.17 80.9L1188.87 95.7L1173.47 95.7Z" fill="#000" stroke="#000" stroke-width="1" stroke-linejoin="round"/>
<path d="M1276.55 56.4L1284.25 71.2L1268.85 71.2Z" fill="#000" stroke="#000" stroke-width="1" stroke-linejoin="round"/>
<rect x="752.4" y="0.75" width="572.4" height="477.65" fill="none" stroke="#000" stroke-width="2.2"/>
<g stroke="#000" stroke-width="1.9" fill="none">
<line x1="799.65" y1="478.4" x2="799.65" y2="487.2"/>
<line x1="895.03" y1="478.4" x2="895.03" y2="487.2"/>
<line x1="990.41" y1="478.4" x2="990.41" y2="487.2"/>
<line x1="1085.79" y1="478.4" x2="1085.79" y2="487.2"/>
<line x1="1181.17" y1="478.4" x2="1181.17" y2="487.2"/>
<line x1="1276.55" y1="478.4" x2="1276.55" y2="487.2"/>
<line x1="752.4" y1="26.85" x2="743.3" y2="26.85"/>
<line x1="752.4" y1="105.25" x2="743.3" y2="105.25"/>
<line x1="752.4" y1="183.7" x2="743.3" y2="183.7"/>
<line x1="752.4" y1="262.1" x2="743.3" y2="262.1"/>
<line x1="752.4" y1="340.5" x2="743.3" y2="340.5"/>
<line x1="752.4" y1="418.7" x2="743.3" y2="418.7"/>
</g>
<g font-family='"Liberation Serif", "Times New Roman", serif' fill="#000">
<text x="735.9" y="33.45" font-size="18.9" text-anchor="end">0.95</text>
<text x="735.9" y="111.85" font-size="18.9" text-anchor="end">0.90</text>
<text x="735.9" y="190.3" font-size="18.9" text-anchor="end">0.85</text>
<text x="735.9" y="268.7" font-size="18.9" text-anchor="end">0.80</text>
<text x="735.9" y="347.1" font-size="18.9" text-anchor="end">0.75</text>
<text x="735.9" y="425.3" font-size="18.9" text-anchor="end">0.70</text>
<text transform="translate(797.55 505.5) rotate(-30)" font-size="18.9" text-anchor="end">LR-spatial</text>
<text transform="translate(892.93 505.5) rotate(-30)" font-size="18.9" text-anchor="end">LR-random</text>
<text transform="translate(988.31 505.5) rotate(-30)" font-size="18.9" text-anchor="end">RF-spatial</text>
<text transform="translate(1083.69 505.5) rotate(-30)" font-size="18.9" text-anchor="end">RF-random</text>
<text transform="translate(1179.07 505.5) rotate(-30)" font-size="18.9" text-anchor="end">XGB-spatial</text>
<text transform="translate(1274.45 505.5) rotate(-30)" font-size="18.9" text-anchor="end">XGB-random</text>
<text transform="translate(690.1 239.97) rotate(-90) scale(0.975 1)" font-size="23.6" text-anchor="middle">PR_AUC</text>
<text x="762.9" y="33.2" font-size="25.4" font-weight="bold">(b)</text>
</g>
</g>
<g id="panel-c">
<g stroke="#bcbcbc" stroke-opacity="0.38" stroke-width="1.6" stroke-dasharray="6.2 2.7" fill="none">
<line x1="1473.75" y1="478.4" x2="1473.75" y2="0.75"/>
<line x1="1569.13" y1="478.4" x2="1569.13" y2="0.75"/>
<line x1="1664.51" y1="478.4" x2="1664.51" y2="0.75"/>
<line x1="1759.89" y1="478.4" x2="1759.89" y2="0.75"/>
<line x1="1855.27" y1="478.4" x2="1855.27" y2="0.75"/>
<line x1="1950.65" y1="478.4" x2="1950.65" y2="0.75"/>
<line x1="1426.45" y1="8.5" x2="1998.85" y2="8.5"/>
<line x1="1426.45" y1="101.6" x2="1998.85" y2="101.6"/>
<line x1="1426.45" y1="194.4" x2="1998.85" y2="194.4"/>
<line x1="1426.45" y1="287.4" x2="1998.85" y2="287.4"/>
<line x1="1426.45" y1="380.55" x2="1998.85" y2="380.55"/>
<line x1="1426.45" y1="473.2" x2="1998.85" y2="473.2"/>
</g>
<rect x="1447.7" y="125.9" width="52.3" height="98.5" fill="#c8b9f0" fill-opacity="0.6" stroke="none"/>
<rect x="1447.7" y="125.9" width="52.3" height="98.5" fill="none" stroke="#3b3b40" stroke-width="2.0"/>
<g stroke="#000" stroke-width="1.95" fill="none">
<line x1="1473.75" y1="125.9" x2="1473.75" y2="122"/>
<line x1="1473.75" y1="224.4" x2="1473.75" y2="346"/>
<line x1="1460.65" y1="122" x2="1487.05" y2="122"/>
<line x1="1460.65" y1="346" x2="1487.05" y2="346"/>
</g>
<line x1="1447.7" y1="165.4" x2="1500" y2="165.4" stroke="#000" stroke-width="2.6"/>
<rect x="1543.08" y="189.5" width="52.3" height="56.7" fill="#dcd5fa" fill-opacity="0.6" stroke="none"/>
<rect x="1543.08" y="189.5" width="52.3" height="56.7" fill="none" stroke="#3b3b40" stroke-width="2.0"/>
<g stroke="#000" stroke-width="1.95" fill="none">
<line x1="1569.13" y1="246.2" x2="1569.13" y2="267.8"/>
<line x1="1556.03" y1="189.5" x2="1582.43" y2="189.5"/>
<line x1="1556.03" y1="267.8" x2="1582.43" y2="267.8"/>
</g>
<line x1="1543.08" y1="238.7" x2="1595.38" y2="238.7" stroke="#000" stroke-width="2.6"/>
<circle cx="1569.23" cy="22.9" r="7.4" fill="#000"/>
<rect x="1638.46" y="222.1" width="52.3" height="110.9" fill="#b9e6cf" fill-opacity="0.6" stroke="none"/>
<rect x="1638.46" y="222.1" width="52.3" height="110.9" fill="none" stroke="#3b3b40" stroke-width="2.0"/>
<g stroke="#000" stroke-width="1.95" fill="none">
<line x1="1664.51" y1="222.1" x2="1664.51" y2="221.1"/>
<line x1="1664.51" y1="333" x2="1664.51" y2="414.6"/>
<line x1="1651.41" y1="221.1" x2="1677.81" y2="221.1"/>
<line x1="1651.41" y1="414.6" x2="1677.81" y2="414.6"/>
</g>
<line x1="1638.46" y1="238.9" x2="1690.76" y2="238.9" stroke="#000" stroke-width="2.6"/>
<rect x="1733.84" y="255.7" width="52.3" height="101.9" fill="#d7f3e6" fill-opacity="0.6" stroke="none"/>
<rect x="1733.84" y="255.7" width="52.3" height="101.9" fill="none" stroke="#3b3b40" stroke-width="2.0"/>
<g stroke="#000" stroke-width="1.95" fill="none">
<line x1="1759.89" y1="255.7" x2="1759.89" y2="243.7"/>
<line x1="1759.89" y1="357.6" x2="1759.89" y2="373.1"/>
<line x1="1746.79" y1="243.7" x2="1773.19" y2="243.7"/>
<line x1="1746.79" y1="373.1" x2="1773.19" y2="373.1"/>
</g>
<line x1="1733.84" y1="301.1" x2="1786.14" y2="301.1" stroke="#000" stroke-width="2.6"/>
<rect x="1829.22" y="288.4" width="52.3" height="128.7" fill="#c4c5ca" fill-opacity="0.6" stroke="none"/>
<rect x="1829.22" y="288.4" width="52.3" height="128.7" fill="none" stroke="#3b3b40" stroke-width="2.0"/>
<g stroke="#000" stroke-width="1.95" fill="none">
<line x1="1855.27" y1="288.4" x2="1855.27" y2="237.4"/>
<line x1="1855.27" y1="417.1" x2="1855.27" y2="457.2"/>
<line x1="1842.17" y1="237.4" x2="1868.57" y2="237.4"/>
<line x1="1842.17" y1="457.2" x2="1868.57" y2="457.2"/>
</g>
<line x1="1829.22" y1="292" x2="1881.52" y2="292" stroke="#000" stroke-width="2.6"/>
<rect x="1924.6" y="310.9" width="52.3" height="110" fill="#e6e6e9" fill-opacity="0.6" stroke="none"/>
<rect x="1924.6" y="310.9" width="52.3" height="110" fill="none" stroke="#3b3b40" stroke-width="2.0"/>
<g stroke="#000" stroke-width="1.95" fill="none">
<line x1="1950.65" y1="310.9" x2="1950.65" y2="212.3"/>
<line x1="1937.55" y1="212.3" x2="1963.95" y2="212.3"/>
<line x1="1937.55" y1="420.9" x2="1963.95" y2="420.9"/>
</g>
<line x1="1924.6" y1="322.5" x2="1976.9" y2="322.5" stroke="#000" stroke-width="2.6"/>
<g fill="#7a58d4" fill-opacity="0.93">
<circle cx="1464.2" cy="122" r="6.2"/>
<circle cx="1467.48" cy="122" r="6.2"/>
<circle cx="1470.76" cy="122" r="6.2"/>
<circle cx="1474.04" cy="122" r="6.2"/>
<circle cx="1477.32" cy="122" r="6.2"/>
<circle cx="1480.6" cy="122" r="6.2"/>
<circle cx="1494.4" cy="122" r="5.6000000000000005" fill-opacity="0.8" stroke="#7a58d4" stroke-opacity="0.75" stroke-width="1.2"/>
<circle cx="1460.4" cy="126.5" r="6.2"/>
<circle cx="1463.4" cy="126.5" r="6.2"/>
<circle cx="1466.4" cy="126.5" r="6.2"/>
<circle cx="1469.4" cy="126.5" r="6.2"/>
<circle cx="1472.4" cy="126.5" r="6.2"/>
<circle cx="1475.4" cy="126.5" r="6.2"/>
<circle cx="1478.4" cy="126.5" r="6.2"/>
<circle cx="1481.4" cy="126.5" r="6.2"/>
<circle cx="1484.4" cy="126.5" r="6.2"/>
<circle cx="1461.7" cy="165.4" r="6.2"/>
<circle cx="1464.79" cy="165.4" r="6.2"/>
<circle cx="1467.88" cy="165.4" r="6.2"/>
<circle cx="1470.96" cy="165.4" r="6.2"/>
<circle cx="1474.05" cy="165.4" r="6.2"/>
<circle cx="1477.14" cy="165.4" r="6.2"/>
<circle cx="1480.22" cy="165.4" r="6.2"/>
<circle cx="1483.31" cy="165.4" r="6.2"/>
<circle cx="1486.4" cy="165.4" r="6.2"/>
<circle cx="1467.9" cy="224.4" r="6.2"/>
<circle cx="1470.96" cy="224.4" r="6.2"/>
<circle cx="1474.03" cy="224.4" r="6.2"/>
<circle cx="1477.09" cy="224.4" r="6.2"/>
<circle cx="1480.15" cy="224.4" r="6.2"/>
<circle cx="1483.21" cy="224.4" r="6.2"/>
<circle cx="1486.27" cy="224.4" r="6.2"/>
<circle cx="1489.34" cy="224.4" r="6.2"/>
<circle cx="1492.4" cy="224.4" r="6.2"/>
<circle cx="1460.9" cy="346" r="6.2"/>
<circle cx="1463.9" cy="346" r="6.2"/>
<circle cx="1466.9" cy="346" r="6.2"/>
<circle cx="1469.9" cy="346" r="6.2"/>
<circle cx="1472.9" cy="346" r="6.2"/>
<circle cx="1475.9" cy="346" r="6.2"/>
<circle cx="1478.9" cy="346" r="6.2"/>
</g>
<g fill="#7a58d4" fill-opacity="0.93">
<circle cx="1559.5" cy="22.9" r="6.2"/>
<circle cx="1562.93" cy="22.9" r="6.2"/>
<circle cx="1566.37" cy="22.9" r="6.2"/>
<circle cx="1569.8" cy="22.9" r="6.2"/>
<circle cx="1577.5" cy="22.9" r="5.6000000000000005" fill-opacity="0.8" stroke="#7a58d4" stroke-opacity="0.75" stroke-width="1.2"/>
<circle cx="1581.2" cy="22.9" r="5.6000000000000005" fill-opacity="0.8" stroke="#7a58d4" stroke-opacity="0.75" stroke-width="1.2"/>
<circle cx="1559" cy="189.5" r="6.2"/>
<circle cx="1561.97" cy="189.5" r="6.2"/>
<circle cx="1564.94" cy="189.5" r="6.2"/>
<circle cx="1567.91" cy="189.5" r="6.2"/>
<circle cx="1570.89" cy="189.5" r="6.2"/>
<circle cx="1573.86" cy="189.5" r="6.2"/>
<circle cx="1576.83" cy="189.5" r="6.2"/>
<circle cx="1579.8" cy="189.5" r="6.2"/>
<circle cx="1565.8" cy="238.7" r="6.2"/>
<circle cx="1568.69" cy="238.7" r="6.2"/>
<circle cx="1571.57" cy="238.7" r="6.2"/>
<circle cx="1574.46" cy="238.7" r="6.2"/>
<circle cx="1577.34" cy="238.7" r="6.2"/>
<circle cx="1580.23" cy="238.7" r="6.2"/>
<circle cx="1583.11" cy="238.7" r="6.2"/>
<circle cx="1586" cy="238.7" r="6.2"/>
<circle cx="1557" cy="245.7" r="6.2"/>
<circle cx="1560.17" cy="245.7" r="6.2"/>
<circle cx="1563.33" cy="245.7" r="6.2"/>
<circle cx="1566.5" cy="245.7" r="6.2"/>
<circle cx="1569.67" cy="245.7" r="6.2"/>
<circle cx="1572.83" cy="245.7" r="6.2"/>
<circle cx="1576" cy="245.7" r="6.2"/>
<circle cx="1560" cy="267.8" r="6.2"/>
<circle cx="1562.8" cy="267.8" r="6.2"/>
<circle cx="1565.6" cy="267.8" r="6.2"/>
<circle cx="1568.4" cy="267.8" r="6.2"/>
<circle cx="1571.2" cy="267.8" r="6.2"/>
<circle cx="1574" cy="267.8" r="6.2"/>
<circle cx="1576.8" cy="267.8" r="6.2"/>
</g>
<g fill="#50a890" fill-opacity="0.93">
<circle cx="1654" cy="219.9" r="6.2"/>
<circle cx="1657.03" cy="219.9" r="6.2"/>
<circle cx="1660.07" cy="219.9" r="6.2"/>
<circle cx="1663.1" cy="219.9" r="6.2"/>
<circle cx="1666.13" cy="219.9" r="6.2"/>
<circle cx="1669.17" cy="219.9" r="6.2"/>
<circle cx="1672.2" cy="219.9" r="6.2"/>
<circle cx="1675.23" cy="219.9" r="6.2"/>
<circle cx="1678.27" cy="219.9" r="6.2"/>
<circle cx="1681.3" cy="219.9" r="6.2"/>
<circle cx="1661.2" cy="223.3" r="6.2"/>
<circle cx="1664.21" cy="223.3" r="6.2"/>
<circle cx="1667.23" cy="223.3" r="6.2"/>
<circle cx="1670.24" cy="223.3" r="6.2"/>
<circle cx="1673.26" cy="223.3" r="6.2"/>
<circle cx="1676.27" cy="223.3" r="6.2"/>
<circle cx="1679.29" cy="223.3" r="6.2"/>
<circle cx="1682.3" cy="223.3" r="6.2"/>
<circle cx="1658.7" cy="238.9" r="6.2"/>
<circle cx="1661.98" cy="238.9" r="6.2"/>
<circle cx="1665.26" cy="238.9" r="6.2"/>
<circle cx="1668.54" cy="238.9" r="6.2"/>
<circle cx="1671.82" cy="238.9" r="6.2"/>
<circle cx="1675.1" cy="238.9" r="6.2"/>
<circle cx="1653.6" cy="332.7" r="6.2"/>
<circle cx="1656.6" cy="332.7" r="6.2"/>
<circle cx="1659.6" cy="332.7" r="6.2"/>
<circle cx="1662.6" cy="332.7" r="6.2"/>
<circle cx="1665.6" cy="332.7" r="6.2"/>
<circle cx="1668.6" cy="332.7" r="6.2"/>
<circle cx="1671.6" cy="332.7" r="6.2"/>
<circle cx="1674.6" cy="332.7" r="6.2"/>
<circle cx="1677.6" cy="332.7" r="6.2"/>
<circle cx="1656.2" cy="414.6" r="6.2"/>
<circle cx="1659.35" cy="414.6" r="6.2"/>
<circle cx="1662.5" cy="414.6" r="6.2"/>
<circle cx="1665.65" cy="414.6" r="6.2"/>
<circle cx="1668.8" cy="414.6" r="6.2"/>
<circle cx="1683.3" cy="414.6" r="5.6000000000000005" fill-opacity="0.8" stroke="#50a890" stroke-opacity="0.75" stroke-width="1.2"/>
</g>
<g fill="#50a890" fill-opacity="0.93">
<circle cx="1751" cy="243.7" r="6.2"/>
<circle cx="1754.25" cy="243.7" r="6.2"/>
<circle cx="1757.5" cy="243.7" r="6.2"/>
<circle cx="1760.75" cy="243.7" r="6.2"/>
<circle cx="1764" cy="243.7" r="6.2"/>
<circle cx="1767.25" cy="243.7" r="6.2"/>
<circle cx="1770.5" cy="243.7" r="6.2"/>
<circle cx="1743.5" cy="256.2" r="6.2"/>
<circle cx="1746.58" cy="256.2" r="6.2"/>
<circle cx="1749.66" cy="256.2" r="6.2"/>
<circle cx="1752.74" cy="256.2" r="6.2"/>
<circle cx="1755.82" cy="256.2" r="6.2"/>
<circle cx="1758.9" cy="256.2" r="6.2"/>
<circle cx="1761.98" cy="256.2" r="6.2"/>
<circle cx="1765.06" cy="256.2" r="6.2"/>
<circle cx="1768.14" cy="256.2" r="6.2"/>
<circle cx="1771.22" cy="256.2" r="6.2"/>
<circle cx="1774.3" cy="256.2" r="6.2"/>
<circle cx="1752.8" cy="301.1" r="6.2"/>
<circle cx="1755.87" cy="301.1" r="6.2"/>
<circle cx="1758.93" cy="301.1" r="6.2"/>
<circle cx="1762" cy="301.1" r="6.2"/>
<circle cx="1765.07" cy="301.1" r="6.2"/>
<circle cx="1768.13" cy="301.1" r="6.2"/>
<circle cx="1771.2" cy="301.1" r="6.2"/>
<circle cx="1750.3" cy="357.1" r="6.2"/>
<circle cx="1753.19" cy="357.1" r="6.2"/>
<circle cx="1756.08" cy="357.1" r="6.2"/>
<circle cx="1758.97" cy="357.1" r="6.2"/>
<circle cx="1761.86" cy="357.1" r="6.2"/>
<circle cx="1764.74" cy="357.1" r="6.2"/>
<circle cx="1767.63" cy="357.1" r="6.2"/>
<circle cx="1770.52" cy="357.1" r="6.2"/>
<circle cx="1773.41" cy="357.1" r="6.2"/>
<circle cx="1776.3" cy="357.1" r="6.2"/>
<circle cx="1748.5" cy="373.1" r="6.2"/>
<circle cx="1751.66" cy="373.1" r="6.2"/>
<circle cx="1754.83" cy="373.1" r="6.2"/>
<circle cx="1757.99" cy="373.1" r="6.2"/>
<circle cx="1761.15" cy="373.1" r="6.2"/>
<circle cx="1764.31" cy="373.1" r="6.2"/>
<circle cx="1767.47" cy="373.1" r="6.2"/>
<circle cx="1770.64" cy="373.1" r="6.2"/>
<circle cx="1773.8" cy="373.1" r="6.2"/>
</g>
<g fill="#555555" fill-opacity="0.93">
<circle cx="1847.2" cy="237.4" r="6.2"/>
<circle cx="1850.43" cy="237.4" r="6.2"/>
<circle cx="1853.67" cy="237.4" r="6.2"/>
<circle cx="1856.9" cy="237.4" r="6.2"/>
<circle cx="1860.13" cy="237.4" r="6.2"/>
<circle cx="1863.37" cy="237.4" r="6.2"/>
<circle cx="1866.6" cy="237.4" r="6.2"/>
<circle cx="1840.3" cy="237.4" r="5.6000000000000005" fill-opacity="0.8" stroke="#555555" stroke-opacity="0.75" stroke-width="1.2"/>
<circle cx="1850.8" cy="288.7" r="6.2"/>
<circle cx="1853.63" cy="288.7" r="6.2"/>
<circle cx="1856.46" cy="288.7" r="6.2"/>
<circle cx="1859.29" cy="288.7" r="6.2"/>
<circle cx="1862.11" cy="288.7" r="6.2"/>
<circle cx="1864.94" cy="288.7" r="6.2"/>
<circle cx="1867.77" cy="288.7" r="6.2"/>
<circle cx="1870.6" cy="288.7" r="6.2"/>
<circle cx="1850.6" cy="292.7" r="6.2"/>
<circle cx="1853.5" cy="292.7" r="6.2"/>
<circle cx="1856.4" cy="292.7" r="6.2"/>
<circle cx="1859.3" cy="292.7" r="6.2"/>
<circle cx="1862.2" cy="292.7" r="6.2"/>
<circle cx="1865.1" cy="292.7" r="6.2"/>
<circle cx="1868" cy="292.7" r="6.2"/>
<circle cx="1870.9" cy="292.7" r="6.2"/>
<circle cx="1838.1" cy="416.9" r="6.2"/>
<circle cx="1841.04" cy="416.9" r="6.2"/>
<circle cx="1843.98" cy="416.9" r="6.2"/>
<circle cx="1846.91" cy="416.9" r="6.2"/>
<circle cx="1849.85" cy="416.9" r="6.2"/>
<circle cx="1852.79" cy="416.9" r="6.2"/>
<circle cx="1855.72" cy="416.9" r="6.2"/>
<circle cx="1858.66" cy="416.9" r="6.2"/>
<circle cx="1861.6" cy="416.9" r="6.2"/>
<circle cx="1844.9" cy="457.2" r="6.2"/>
<circle cx="1847.93" cy="457.2" r="6.2"/>
<circle cx="1850.95" cy="457.2" r="6.2"/>
<circle cx="1853.97" cy="457.2" r="6.2"/>
<circle cx="1857" cy="457.2" r="6.2"/>
<circle cx="1860.03" cy="457.2" r="6.2"/>
<circle cx="1863.05" cy="457.2" r="6.2"/>
<circle cx="1866.07" cy="457.2" r="6.2"/>
<circle cx="1869.1" cy="457.2" r="6.2"/>
</g>
<g fill="#555555" fill-opacity="0.93">
<circle cx="1939.2" cy="212.3" r="6.2"/>
<circle cx="1942.05" cy="212.3" r="6.2"/>
<circle cx="1944.9" cy="212.3" r="6.2"/>
<circle cx="1947.75" cy="212.3" r="6.2"/>
<circle cx="1950.6" cy="212.3" r="6.2"/>
<circle cx="1953.45" cy="212.3" r="6.2"/>
<circle cx="1956.3" cy="212.3" r="6.2"/>
<circle cx="1959.15" cy="212.3" r="6.2"/>
<circle cx="1962" cy="212.3" r="6.2"/>
<circle cx="1943.2" cy="310.9" r="6.2"/>
<circle cx="1946.33" cy="310.9" r="6.2"/>
<circle cx="1949.47" cy="310.9" r="6.2"/>
<circle cx="1952.6" cy="310.9" r="6.2"/>
<circle cx="1955.73" cy="310.9" r="6.2"/>
<circle cx="1958.87" cy="310.9" r="6.2"/>
<circle cx="1962" cy="310.9" r="6.2"/>
<circle cx="1936" cy="310.9" r="5.6000000000000005" fill-opacity="0.8" stroke="#555555" stroke-opacity="0.75" stroke-width="1.2"/>
<circle cx="1939.7" cy="322.5" r="6.2"/>
<circle cx="1942.7" cy="322.5" r="6.2"/>
<circle cx="1945.7" cy="322.5" r="6.2"/>
<circle cx="1948.7" cy="322.5" r="6.2"/>
<circle cx="1951.7" cy="322.5" r="6.2"/>
<circle cx="1954.7" cy="322.5" r="6.2"/>
<circle cx="1957.7" cy="322.5" r="6.2"/>
<circle cx="1960.7" cy="322.5" r="6.2"/>
<circle cx="1963.7" cy="322.5" r="6.2"/>
<circle cx="1938.2" cy="421.1" r="6.2"/>
<circle cx="1941.13" cy="421.1" r="6.2"/>
<circle cx="1944.06" cy="421.1" r="6.2"/>
<circle cx="1946.99" cy="421.1" r="6.2"/>
<circle cx="1949.92" cy="421.1" r="6.2"/>
<circle cx="1952.85" cy="421.1" r="6.2"/>
<circle cx="1955.78" cy="421.1" r="6.2"/>
<circle cx="1958.71" cy="421.1" r="6.2"/>
<circle cx="1961.64" cy="421.1" r="6.2"/>
<circle cx="1964.57" cy="421.1" r="6.2"/>
<circle cx="1967.5" cy="421.1" r="6.2"/>
<circle cx="1928.8" cy="421.1" r="5.6000000000000005" fill-opacity="0.8" stroke="#555555" stroke-opacity="0.75" stroke-width="1.2"/>
</g>
<path d="M1473.75 189.6L1481.45 204.4L1466.05 204.4Z" fill="#000" stroke="#000" stroke-width="1" stroke-linejoin="round"/>
<path d="M1569.13 185.9L1576.83 200.7L1561.43 200.7Z" fill="#000" stroke="#000" stroke-width="1" stroke-linejoin="round"/>
<path d="M1664.51 278.7L1672.21 293.5L1656.81 293.5Z" fill="#000" stroke="#000" stroke-width="1" stroke-linejoin="round"/>
<path d="M1759.89 299.3L1767.59 314.1L1752.19 314.1Z" fill="#000" stroke="#000" stroke-width="1" stroke-linejoin="round"/>
<path d="M1855.27 331.4L1862.97 346.2L1847.57 346.2Z" fill="#000" stroke="#000" stroke-width="1" stroke-linejoin="round"/>
<path d="M1950.65 330.6L1958.35 345.4L1942.95 345.4Z" fill="#000" stroke="#000" stroke-width="1" stroke-linejoin="round"/>
<rect x="1426.45" y="0.75" width="572.4" height="477.65" fill="none" stroke="#000" stroke-width="2.2"/>
<g stroke="#000" stroke-width="1.9" fill="none">
<line x1="1473.75" y1="478.4" x2="1473.75" y2="487.2"/>
<line x1="1569.13" y1="478.4" x2="1569.13" y2="487.2"/>
<line x1="1664.51" y1="478.4" x2="1664.51" y2="487.2"/>
<line x1="1759.89" y1="478.4" x2="1759.89" y2="487.2"/>
<line x1="1855.27" y1="478.4" x2="1855.27" y2="487.2"/>
<line x1="1950.65" y1="478.4" x2="1950.65" y2="487.2"/>
<line x1="1426.45" y1="8.65" x2="1417.35" y2="8.65"/>
<line x1="1426.45" y1="101.55" x2="1417.35" y2="101.55"/>
<line x1="1426.45" y1="194.4" x2="1417.35" y2="194.4"/>
<line x1="1426.45" y1="287.3" x2="1417.35" y2="287.3"/>
<line x1="1426.45" y1="380.3" x2="1417.35" y2="380.3"/>
<line x1="1426.45" y1="473.05" x2="1417.35" y2="473.05"/>
</g>
<g font-family='"Liberation Serif", "Times New Roman", serif' fill="#000">
<text x="1409.95" y="15.25" font-size="18.9" text-anchor="end">0.18</text>
<text x="1409.95" y="108.15" font-size="18.9" text-anchor="end">0.16</text>
<text x="1409.95" y="201" font-size="18.9" text-anchor="end">0.14</text>
<text x="1409.95" y="293.9" font-size="18.9" text-anchor="end">0.12</text>
<text x="1409.95" y="386.9" font-size="18.9" text-anchor="end">0.10</text>
<text x="1409.95" y="479.65" font-size="18.9" text-anchor="end">0.08</text>
<text transform="translate(1471.65 505.5) rotate(-30)" font-size="18.9" text-anchor="end">LR-spatial</text>
<text transform="translate(1567.03 505.5) rotate(-30)" font-size="18.9" text-anchor="end">LR-random</text>
<text transform="translate(1662.41 505.5) rotate(-30)" font-size="18.9" text-anchor="end">RF-spatial</text>
<text transform="translate(1757.79 505.5) rotate(-30)" font-size="18.9" text-anchor="end">RF-random</text>
<text transform="translate(1853.17 505.5) rotate(-30)" font-size="18.9" text-anchor="end">XGB-spatial</text>
<text transform="translate(1948.55 505.5) rotate(-30)" font-size="18.9" text-anchor="end">XGB-random</text>
<text transform="translate(1364.15 239.97) rotate(-90) scale(0.975 1)" font-size="23.6" text-anchor="middle">Brier</text>
<text x="1436.95" y="33.2" font-size="25.4" font-weight="bold">(c)</text>
</g>
</g>
</svg>
</body>
</html>
